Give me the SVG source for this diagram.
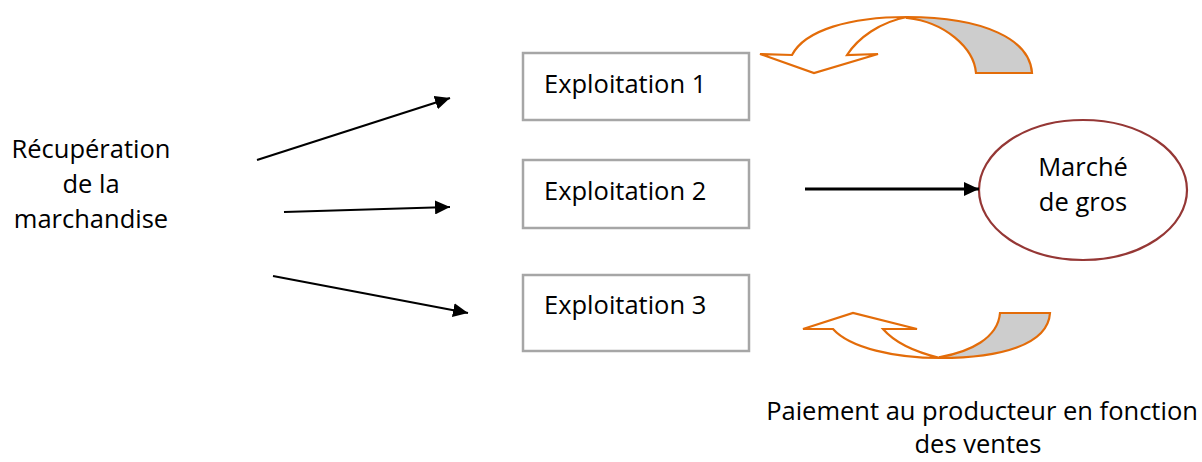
<svg xmlns="http://www.w3.org/2000/svg" width="1202" height="462" viewBox="0 0 1202 462">
<style>
  text { font-family: "Open Sans", "Liberation Sans", sans-serif; font-size: 25.5px; fill: #000; }
  .box { fill: #fff; stroke: #a6a6a6; stroke-width: 2.5; }
  .conn { stroke: #000; stroke-width: 2.2; fill: none; marker-end: url(#ah); }
  .curve-front { fill: #fff; stroke: #e36c09; stroke-width: 2.2; stroke-linejoin: miter; }
  .curve-back { fill: #cdcdcd; stroke: #e36c09; stroke-width: 2.2; }
</style>
<defs>
  <marker id="ah" viewBox="0 0 15 14" refX="15" refY="7" markerWidth="15" markerHeight="14" markerUnits="userSpaceOnUse" orient="auto">
    <path d="M0,0 L15,7 L0,14 Z" fill="#000"/>
  </marker>
</defs>
<rect width="1202" height="462" fill="#fff"/>

<g id="recuperation">
  <text x="91" y="158" text-anchor="middle">Récupération</text>
  <text x="91" y="193" text-anchor="middle">de la</text>
  <text x="91" y="228" text-anchor="middle">marchandise</text>
</g>

<g id="exploitation1">
  <rect class="box" x="523" y="53" width="226" height="67"/>
  <text x="544" y="93">Exploitation 1</text>
</g>
<g id="exploitation2">
  <rect class="box" x="523" y="160" width="226" height="68"/>
  <text x="544" y="200">Exploitation 2</text>
</g>
<g id="exploitation3">
  <rect class="box" x="523" y="275" width="226" height="76"/>
  <text x="544" y="314">Exploitation 3</text>
</g>

<g id="marche">
  <ellipse cx="1083" cy="190" rx="104" ry="70" fill="#fff" stroke="#953735" stroke-width="2.2"/>
  <text x="1083" y="176" text-anchor="middle">Marché</text>
  <text x="1083" y="211" text-anchor="middle">de gros</text>
</g>

<g id="paiement">
  <text x="982" y="420" text-anchor="middle">Paiement au producteur en fonction</text>
  <text x="978" y="453" text-anchor="middle">des ventes</text>
</g>

<g id="connectors">
  <line class="conn" x1="257" y1="160" x2="450" y2="98"/>
  <line class="conn" x1="284" y1="212" x2="450" y2="207"/>
  <line class="conn" x1="273" y1="276" x2="468" y2="313"/>
  <line class="conn" x1="805" y1="189" x2="979" y2="189" style="stroke-width:3.2"/>
</g>

<g id="curved-arrow-top">
  <path class="curve-back" d="M907,17 C985,17 1030,40 1032,73 L976,73 C974,48 945,22 907,18 Z"/>
  <path class="curve-front" d="M792,55 C805,30 850,17 907,17 C880,22 858,38 847,55 L878,54 L814,73 L760,54 Z"/>
</g>

<g id="curved-arrow-bottom">
  <path class="curve-back" d="M940,358 C1000,358 1048,345 1050,313 L1000,313 C998,338 970,352 940,357 Z"/>
  <path class="curve-front" d="M833,329 C850,348 895,358 940,358 C915,352 895,343 883,329 L917,329 L853,313 L803,329 Z"/>
</g>
</svg>
